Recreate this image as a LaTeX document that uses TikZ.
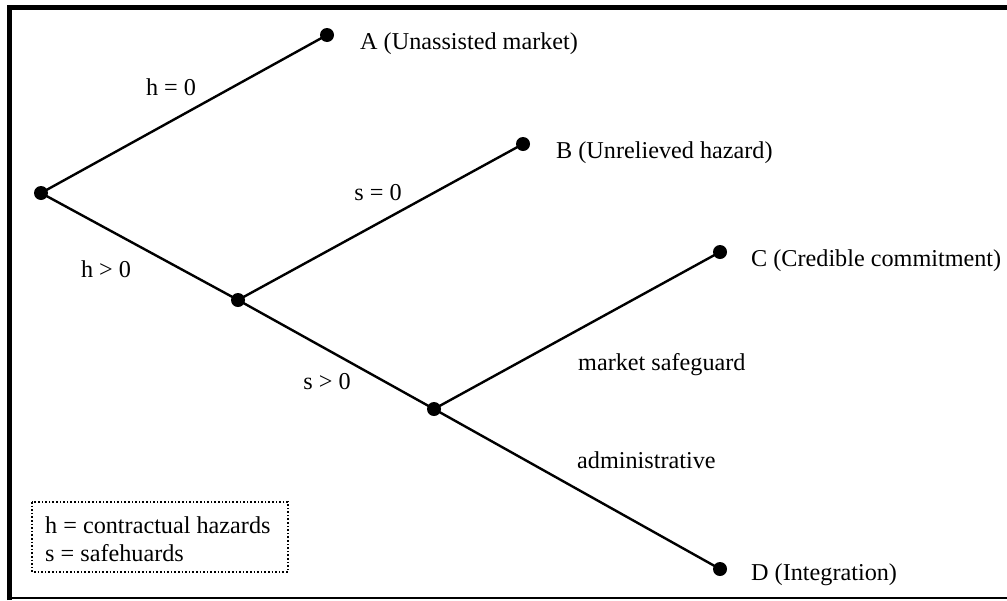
\documentclass[tikz,border=0pt]{standalone}
\usepackage{fontspec}
\setmainfont{Liberation Serif}
\begin{document}
\begin{tikzpicture}[x=1pt,y=-1pt,
  dot/.style={circle,fill=black,inner sep=0pt,minimum size=14pt},
  branch/.style={line width=2.4pt},
  lbl/.style={font=\fontsize{24.2}{29}\selectfont,inner sep=0pt,anchor=base},
  endlbl/.style={lbl,anchor=base west}]
\useasboundingbox (0,0) rectangle (1007,600);
% frame
\draw[line width=5pt] (9.5,600) -- (9.5,7.5) -- (1007,7.5);
\draw[line width=2pt] (9.5,598) -- (1007,598);
% nodes
\node[dot] (r) at (41,193) {};
\node[dot] (a) at (327,35) {};
\node[dot] (n1) at (238,300) {};
\node[dot] (b) at (523,144) {};
\node[dot] (n2) at (434,409) {};
\node[dot] (c) at (720,252) {};
\node[dot] (d) at (720,569) {};
% branches
\draw[branch] (r.center) -- (a.center);
\draw[branch] (r.center) -- (n1.center);
\draw[branch] (n1.center) -- (b.center);
\draw[branch] (n1.center) -- (n2.center);
\draw[branch] (n2.center) -- (c.center);
\draw[branch] (n2.center) -- (d.center);
% branch labels
\node[lbl] (lh0) at (171,95) {h = 0};
\node[lbl] (lhp) at (106,277) {h > 0};
\node[lbl] (ls0) at (378,200) {s = 0};
\node[lbl] (lsp) at (327,389) {s > 0};
\node[endlbl] (lms) at (578,370) {market safeguard};
\node[endlbl] (lad) at (577,468) {administrative};
% end labels
\node[endlbl] (ta) at (360,49) {A (Unassisted market)};
\node[endlbl] (tb) at (556,158) {B (Unrelieved hazard)};
\node[endlbl] (tc) at (751,266) {C (Credible commitment)};
\node[endlbl] (td) at (751,580) {D (Integration)};
% legend
\draw[line width=1.6pt,dotted] (32,502) rectangle (288,572);
\node[endlbl] (l1) at (45,533) {h = contractual hazards};
\node[endlbl] (l2) at (45,561) {s = safehuards};
\end{tikzpicture}
\end{document}
